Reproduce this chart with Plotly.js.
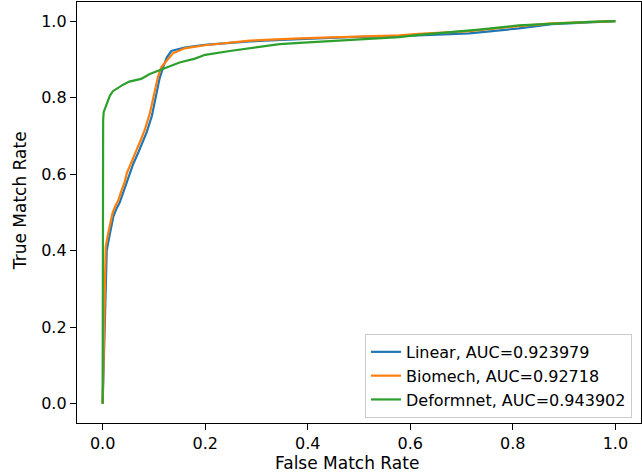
<!DOCTYPE html>
<html>
<head>
<meta charset="utf-8">
<script src="https://cdn.plot.ly/plotly-3.0.1.min.js"></script>
<style>html,body{margin:0;padding:0;background:#fff;}#chart{width:642px;height:475px;}</style>
</head>
<body>
<div id="chart"></div>
<script>
var seriesNames = ["Linear, AUC=0.923979", "Biomech, AUC=0.92718", "Deformnet, AUC=0.943902"];
var xTitle = "False Match Rate";
var yTitle = "True Match Rate";

var linearX = [0, 0.002, 0.004, 0.006, 0.008, 0.012, 0.016, 0.021, 0.027, 0.033, 0.039, 0.046, 0.051, 0.060, 0.070, 0.077, 0.086, 0.096, 0.105, 0.111, 0.118, 0.125, 0.134, 0.16, 0.199, 0.287, 0.384, 0.481, 0.578, 0.617, 0.715, 0.812, 0.876, 1.0];
var linearY = [0, 0.1, 0.2, 0.35, 0.40, 0.43, 0.46, 0.49, 0.51, 0.525, 0.548, 0.574, 0.598, 0.628, 0.658, 0.68, 0.71, 0.752, 0.812, 0.85, 0.88, 0.905, 0.922, 0.931, 0.938, 0.947, 0.953, 0.958, 0.961, 0.963, 0.968, 0.981, 0.992, 1.0];

var biomechX = [0, 0.002, 0.003, 0.005, 0.006, 0.01, 0.014, 0.019, 0.024, 0.030, 0.036, 0.043, 0.047, 0.056, 0.066, 0.073, 0.082, 0.092, 0.102, 0.108, 0.115, 0.125, 0.137, 0.16, 0.199, 0.287, 0.384, 0.481, 0.578, 0.617, 0.715, 0.812, 0.876, 1.0];
var biomechY = [0, 0.1, 0.2, 0.35, 0.41, 0.44, 0.47, 0.497, 0.515, 0.53, 0.554, 0.58, 0.602, 0.633, 0.663, 0.685, 0.715, 0.759, 0.820, 0.855, 0.881, 0.898, 0.916, 0.929, 0.937, 0.949, 0.955, 0.959, 0.963, 0.967, 0.974, 0.987, 0.994, 1.0];

var deformX = [0, 0.0, 0.001, 0.002, 0.006, 0.014, 0.02, 0.03, 0.04, 0.052, 0.075, 0.092, 0.105, 0.118, 0.134, 0.15, 0.18, 0.2, 0.248, 0.287, 0.345, 0.384, 0.481, 0.578, 0.617, 0.7, 0.734, 0.812, 0.876, 0.95, 1.0];
var deformY = [0, 0.60, 0.74, 0.762, 0.775, 0.805, 0.817, 0.826, 0.834, 0.842, 0.849, 0.862, 0.869, 0.876, 0.883, 0.892, 0.902, 0.912, 0.922, 0.930, 0.940, 0.943, 0.951, 0.958, 0.964, 0.973, 0.978, 0.989, 0.994, 0.998, 1.0];

var tickVals = [0, 0.2, 0.4, 0.6, 0.8, 1.0];
var tickText = ["0.0", "0.2", "0.4", "0.6", "0.8", "1.0"];
var colors = ["#1f77b4", "#ff7f0e", "#2ca02c"];

var xs = [linearX, biomechX, deformX];
var ys = [linearY, biomechY, deformY];
var traces = [];
for (var i = 0; i < 3; i++) {
  traces.push({
    x: xs[i], y: ys[i], type: 'scatter', mode: 'lines', name: seriesNames[i],
    line: {color: colors[i], width: 2.2}
  });
}

var font = {family: 'DejaVu Sans, sans-serif', size: 16, color: '#000'};
var titleFont = {family: 'DejaVu Sans, sans-serif', size: 17, color: '#000'};
var axisCommon = {
  showline: true, mirror: true, linecolor: '#000', linewidth: 1.2,
  ticks: 'outside', ticklen: 6, tickwidth: 1.2, tickcolor: '#000',
  showgrid: false, zeroline: false, tickvals: tickVals, ticktext: tickText,
  tickfont: font
};

var layout = {
  width: 642, height: 475,
  margin: {l: 77, r: 1, t: 2, b: 52},
  paper_bgcolor: '#fff', plot_bgcolor: '#fff',
  font: font,
  showlegend: true,
  xaxis: Object.assign({}, axisCommon, {range: [-0.05, 1.05]}),
  yaxis: Object.assign({}, axisCommon, {range: [-0.05, 1.05]}),
  annotations: [
    {text: xTitle, xref: 'paper', yref: 'paper', x: 0.4787, y: -0.095,
     xanchor: 'center', yanchor: 'middle', showarrow: false, font: titleFont},
    {text: yTitle, xref: 'paper', yref: 'paper', x: -0.101, y: 0.527,
     xanchor: 'center', yanchor: 'middle', showarrow: false, textangle: -90, font: titleFont}
  ],
  legend: {
    x: 0.984, y: 0.012, xanchor: 'right', yanchor: 'bottom',
    bgcolor: 'rgba(255,255,255,0.8)', bordercolor: '#cccccc', borderwidth: 1,
    font: font
  }
};

Plotly.newPlot('chart', traces, layout, {displayModeBar: false, staticPlot: true});
</script>
</body>
</html>
